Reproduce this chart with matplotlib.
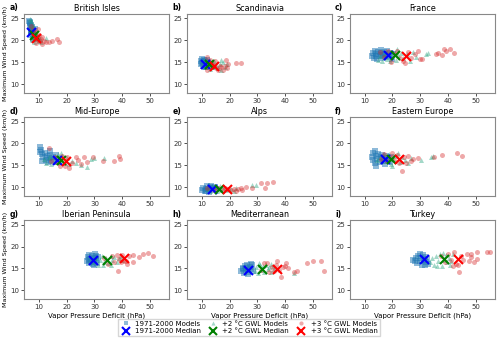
import matplotlib
matplotlib.use("Agg")
import matplotlib.pyplot as plt
from matplotlib.lines import Line2D

# Data (VPD in hPa, max wind speed in km/h)
regions = ['British Isles', 'Scandinavia', 'France', 'Mid-Europe', 'Alps',
           'Eastern Europe', 'Iberian Peninsula', 'Mediterranean', 'Turkey']
panel_tags = ['a)', 'b)', 'c)', 'd)', 'e)', 'f)', 'g)', 'h)', 'i)']

hist_a = [(6.5, 24.5), (6.8, 24.0), (7.0, 23.5), (6.6, 23.2), (7.2, 22.8), (7.5, 22.4), (7.3, 21.8),
          (7.8, 21.5), (8.0, 22.0), (8.2, 21.2), (7.0, 22.2), (8.5, 20.8), (7.6, 23.0), (6.9, 24.2),
          (8.8, 20.5), (7.9, 20.2), (7.1, 21.3), (8.4, 22.5)]
gwl2_a = [(6.6, 24.8), (7.0, 24.3), (7.4, 23.0), (7.8, 22.3), (8.1, 21.6), (8.4, 21.0), (8.7, 20.6),
          (9.0, 20.2), (7.6, 20.8), (8.2, 19.5), (9.5, 19.8), (10.2, 20.3), (12.6, 20.6), (7.2, 21.8),
          (8.9, 21.5), (9.8, 20.9), (8.0, 23.4), (7.5, 20.1), (10.8, 19.6)]
gwl3_a = [(7.2, 23.2), (7.8, 22.4), (8.5, 22.0), (8.8, 21.0), (9.3, 20.5), (9.8, 20.0), (10.3, 19.8),
          (10.8, 20.4), (11.2, 19.2), (11.8, 19.9), (12.5, 19.7), (13.6, 19.6), (14.6, 19.8),
          (16.5, 20.2), (17.3, 19.7), (9.0, 19.4), (10.0, 21.2), (8.2, 20.8), (11.0, 20.8), (9.5, 22.6)]
med_a = [(7.3, 21.8), (8.1, 21.1), (9.0, 20.6)]

hist_b = [(9.6, 15.3), (9.8, 14.6), (10.2, 15.8), (10.4, 14.2), (10.6, 15.0), (10.8, 15.5), (11.0, 14.0),
          (11.2, 15.2), (11.5, 14.7), (11.8, 15.6), (12.0, 14.3), (12.3, 15.0), (10.0, 14.9),
          (11.4, 13.9), (12.6, 14.5), (10.9, 14.4)]
gwl2_b = [(10.5, 15.2), (11.0, 14.8), (11.6, 14.0), (12.0, 15.3), (12.5, 14.6), (13.0, 14.2),
          (13.5, 15.0), (14.2, 13.8), (15.0, 14.4), (15.8, 13.6), (16.5, 14.6), (16.8, 15.5),
          (17.5, 15.0), (18.2, 14.0), (17.0, 13.2), (12.8, 13.5), (14.5, 15.2), (19.0, 14.5)]
gwl3_b = [(11.9, 16.1), (11.9, 13.2), (12.5, 14.8), (13.2, 14.0), (13.8, 14.5), (14.3, 14.2),
          (15.0, 13.6), (15.8, 13.1), (16.5, 14.2), (17.6, 13.1), (18.2, 14.2), (18.8, 15.5),
          (19.4, 14.6), (19.0, 13.6), (22.5, 14.8), (24.3, 14.8), (14.6, 15.3), (12.8, 15.6), (16.9, 14.0)]
med_b = [(11.3, 14.6), (12.7, 14.5), (14.3, 14.2)]

hist_c = [(12.5, 16.5), (13.0, 17.2), (13.5, 16.0), (13.8, 17.6), (14.2, 16.8), (14.6, 15.7),
          (15.0, 17.3), (15.4, 16.3), (15.8, 17.7), (16.2, 16.6), (16.6, 15.9), (17.0, 17.4),
          (17.4, 16.8), (17.8, 16.1), (18.2, 17.6), (18.6, 16.4), (19.2, 17.0), (19.8, 15.8),
          (20.2, 16.9), (14.0, 16.4), (16.0, 17.0)]
gwl2_c = [(14.8, 15.6), (15.5, 16.4), (16.3, 15.3), (17.2, 16.9), (18.0, 15.8), (18.8, 17.1),
          (19.6, 16.1), (20.4, 17.4), (21.2, 15.6), (22.0, 16.7), (23.0, 17.2), (24.0, 16.0),
          (25.2, 16.8), (26.4, 15.2), (27.5, 17.4), (28.6, 16.2), (32.0, 16.8), (32.7, 17.2),
          (21.5, 18.0), (19.0, 15.2)]
gwl3_c = [(15.5, 17.4), (17.0, 16.2), (18.5, 17.6), (19.5, 15.0), (20.8, 16.8), (21.8, 17.5),
          (22.8, 15.9), (23.8, 15.2), (24.6, 14.7), (25.5, 17.3), (26.8, 16.0), (28.0, 16.8),
          (29.3, 17.5), (30.1, 15.8), (30.8, 15.8), (35.7, 16.8), (36.4, 17.2), (38.0, 16.6),
          (38.7, 18.0), (39.3, 17.5), (40.8, 18.0), (42.2, 17.0)]
med_c = [(18.6, 16.6), (21.1, 16.6), (24.9, 16.5)]

hist_d = [(10.5, 19.2), (10.8, 18.6), (10.3, 18.0), (11.0, 17.5), (11.5, 16.8), (12.0, 17.8),
          (12.4, 16.2), (12.8, 17.2), (13.2, 15.8), (13.6, 16.6), (14.0, 17.4), (14.5, 15.9),
          (15.0, 16.8), (15.5, 16.2), (16.0, 17.3), (16.5, 15.7), (17.0, 16.5), (11.2, 16.0), (13.8, 18.2)]
gwl2_d = [(11.8, 16.4), (12.6, 15.6), (13.5, 16.9), (14.4, 15.4), (15.2, 17.0), (16.0, 15.8),
          (16.8, 17.5), (17.6, 16.0), (18.4, 17.2), (19.2, 15.5), (20.0, 16.6), (21.0, 15.2),
          (22.0, 16.0), (23.5, 15.6), (25.0, 15.0), (27.3, 14.7), (28.8, 16.5), (30.0, 16.6),
          (33.5, 16.6), (18.0, 17.8)]
gwl3_d = [(13.6, 18.9), (14.5, 16.0), (15.8, 16.8), (16.8, 15.6), (17.4, 14.9), (18.2, 17.2),
          (19.0, 15.9), (20.0, 16.8), (21.0, 14.5), (22.0, 15.6), (23.4, 16.8), (24.2, 16.2),
          (25.2, 15.3), (26.4, 17.0), (27.4, 15.8), (29.4, 17.0), (33.2, 16.0), (36.9, 16.1),
          (38.9, 17.2), (39.3, 16.5), (19.5, 14.8)]
med_d = [(16.4, 16.3), (17.8, 16.3), (19.6, 16.1)]

hist_e = [(10.2, 9.4), (10.6, 9.9), (11.0, 9.2), (11.4, 9.7), (11.8, 10.2), (12.2, 9.5), (12.6, 9.0),
          (13.0, 9.8), (13.4, 10.3), (13.8, 9.3), (14.2, 9.9), (14.6, 10.1), (15.0, 9.5), (11.6, 9.1),
          (12.9, 10.0)]
gwl2_e = [(12.0, 9.6), (13.0, 9.1), (14.0, 9.8), (15.0, 10.0), (15.6, 9.2), (16.2, 9.7), (17.0, 9.4),
          (17.8, 9.9), (18.6, 9.3), (19.5, 9.6), (20.5, 9.5), (21.5, 9.2), (22.5, 9.8), (28.2, 10.4),
          (29.7, 10.6), (16.6, 10.2)]
gwl3_e = [(12.0, 9.8), (14.5, 9.4), (16.0, 9.9), (17.5, 9.3), (18.5, 9.8), (19.5, 9.5), (20.5, 9.3),
          (21.5, 9.7), (22.2, 9.2), (23.0, 9.5), (24.0, 9.8), (24.6, 9.4), (28.0, 9.8), (31.4, 10.9),
          (32.7, 9.8), (33.6, 10.9), (35.7, 11.1), (26.0, 10.0)]
med_e = [(13.6, 9.6), (16.2, 9.6), (19.0, 9.6)]

hist_f = [(12.5, 16.9), (13.0, 17.9), (13.2, 16.2), (13.6, 15.6), (14.0, 17.2), (14.2, 14.9),
          (14.6, 16.5), (15.0, 17.6), (15.4, 15.8), (15.8, 16.9), (16.2, 17.4), (16.6, 16.0),
          (17.0, 16.7), (17.4, 15.4), (17.8, 17.1), (18.4, 16.3), (19.0, 15.8), (19.6, 16.9), (13.8, 18.3)]
gwl2_f = [(14.5, 16.2), (15.5, 17.0), (16.4, 15.9), (17.2, 17.3), (18.0, 16.1), (18.8, 17.5),
          (19.9, 14.8), (20.4, 16.4), (21.2, 17.1), (21.9, 17.9), (22.8, 15.8), (23.6, 16.9),
          (24.5, 16.2), (25.6, 15.5), (26.8, 16.6), (30.5, 16.2), (33.9, 16.8), (34.5, 17.2), (19.4, 15.4)]
gwl3_f = [(15.8, 16.5), (17.0, 17.5), (18.2, 15.9), (19.4, 16.9), (20.6, 16.2), (21.6, 17.4),
          (22.5, 15.6), (23.5, 13.7), (24.2, 16.8), (24.9, 15.6), (25.5, 17.2), (26.7, 16.0),
          (27.4, 16.5), (29.1, 16.6), (35.1, 16.9), (37.8, 17.4), (43.4, 17.9), (45.2, 17.2), (20.0, 17.8)]
med_f = [(17.2, 16.4), (19.6, 16.4), (22.5, 16.4)]

hist_g = [(27.2, 16.8), (27.6, 17.6), (27.9, 16.2), (28.2, 18.0), (28.5, 17.2), (28.8, 16.5),
          (29.1, 17.8), (29.4, 16.0), (29.7, 17.4), (30.0, 16.7), (30.3, 18.2), (30.6, 17.0),
          (30.9, 16.3), (31.2, 17.6), (28.0, 17.0), (29.8, 15.9), (30.5, 17.9)]
gwl2_g = [(29.5, 16.4), (30.5, 17.4), (31.2, 15.9), (32.0, 17.0), (32.8, 17.8), (33.5, 16.5),
          (34.2, 17.4), (35.0, 16.2), (35.8, 17.8), (36.5, 16.9), (37.2, 17.6), (38.0, 16.4),
          (38.8, 17.3), (39.6, 17.9), (33.0, 15.8), (36.0, 15.9), (40.0, 17.0)]
gwl3_g = [(33.5, 17.3), (35.0, 16.0), (36.2, 17.8), (37.2, 16.5), (38.0, 18.0), (38.4, 14.5),
          (39.0, 17.2), (39.8, 18.1), (40.6, 16.8), (41.4, 16.7), (41.7, 16.0), (42.5, 17.8),
          (43.8, 18.0), (43.8, 16.5), (45.9, 17.6), (47.6, 18.2), (49.2, 18.6), (51.0, 17.8), (39.5, 16.4)]
med_g = [(29.4, 17.0), (34.6, 17.0), (40.5, 17.3)]

hist_h = [(24.3, 14.4), (24.8, 15.0), (25.2, 14.0), (25.6, 15.6), (26.0, 14.6), (26.4, 15.9),
          (26.8, 14.2), (27.2, 15.3), (27.6, 14.8), (28.0, 15.8), (28.4, 14.4), (25.0, 14.8),
          (26.6, 13.8), (27.8, 16.0), (25.8, 15.2)]
gwl2_h = [(29.0, 14.4), (29.6, 15.4), (30.2, 14.0), (30.8, 15.8), (31.4, 14.7), (32.0, 15.5),
          (32.6, 14.2), (33.2, 15.9), (33.8, 14.8), (34.4, 15.4), (35.0, 14.1), (35.6, 15.6),
          (36.2, 14.9), (43.2, 14.0), (30.5, 16.2), (34.8, 16.0)]
gwl3_h = [(31.5, 14.6), (32.5, 16.2), (33.6, 16.3), (34.4, 14.2), (35.2, 15.3), (36.0, 14.4),
          (36.6, 15.8), (37.0, 16.8), (37.8, 14.6), (38.7, 13.0), (39.2, 15.4), (40.0, 15.5),
          (40.2, 16.3), (41.0, 15.0), (43.2, 14.3), (44.4, 14.5), (48.0, 16.3), (50.1, 16.6),
          (52.8, 16.6), (54.0, 14.5)]
med_h = [(26.8, 14.7), (31.8, 14.9), (37.2, 14.9)]

hist_i = [(28.0, 16.8), (28.6, 17.5), (29.0, 16.2), (29.4, 17.9), (29.8, 16.6), (30.2, 17.3),
          (30.6, 15.9), (31.0, 18.0), (31.4, 16.9), (31.8, 17.6), (32.2, 16.4), (32.6, 17.2),
          (33.0, 16.0), (30.0, 18.2), (31.6, 15.8), (27.5, 17.0)]
gwl2_i = [(33.5, 16.5), (34.2, 17.4), (35.0, 15.9), (35.8, 17.8), (36.5, 16.6), (37.2, 18.4),
          (37.8, 15.6), (38.5, 17.0), (39.2, 18.0), (39.8, 16.4), (40.5, 17.5), (41.2, 16.8),
          (42.0, 18.2), (36.0, 15.5), (38.2, 18.6), (40.8, 15.8)]
gwl3_i = [(37.5, 17.8), (39.0, 16.5), (40.0, 18.4), (41.0, 17.0), (42.2, 18.8), (43.0, 16.0),
          (43.8, 15.8), (44.0, 14.1), (44.8, 17.8), (45.5, 16.9), (46.8, 18.2), (47.6, 16.7),
          (48.2, 17.6), (48.2, 18.4), (49.4, 16.5), (50.6, 17.2), (50.6, 18.8), (54.2, 18.8),
          (55.1, 18.8), (41.8, 15.6)]
med_i = [(31.3, 17.1), (38.7, 17.1), (43.7, 17.2)]

hist_all = [hist_a, hist_b, hist_c, hist_d, hist_e, hist_f, hist_g, hist_h, hist_i]
gwl2_all = [gwl2_a, gwl2_b, gwl2_c, gwl2_d, gwl2_e, gwl2_f, gwl2_g, gwl2_h, gwl2_i]
gwl3_all = [gwl3_a, gwl3_b, gwl3_c, gwl3_d, gwl3_e, gwl3_f, gwl3_g, gwl3_h, gwl3_i]
med_all = [med_a, med_b, med_c, med_d, med_e, med_f, med_g, med_h, med_i]

fs = 5
fig, axes = plt.subplots(3, 3, figsize=(5, 3.43), dpi=100)
fig.subplots_adjust(left=0.048, right=0.99, top=0.959, bottom=0.128, wspace=0.12, hspace=0.31)

for k, ax in enumerate(axes.flat):
    for pts, mk, col, al in [(hist_all[k], 's', '#1f77b4', 0.5),
                             (gwl2_all[k], '^', '#1b9e77', 0.4),
                             (gwl3_all[k], 'o', '#d62728', 0.4)]:
        xs = [p[0] for p in pts]
        ys = [p[1] for p in pts]
        ax.scatter(xs, ys, marker=mk, s=13, color=col, alpha=al, linewidths=0)
    for (mx, my), col in zip(med_all[k], ['blue', 'green', 'red']):
        ax.scatter([mx], [my], marker='x', s=42, color=col, linewidths=1.5, zorder=5)

    ax.set_xlim(4.6, 57)
    ax.set_ylim(8, 26)
    ax.set_xticks([10, 20, 30, 40, 50])
    ax.set_yticks([10, 15, 20, 25])
    ax.tick_params(labelsize=fs, length=2, width=0.6, pad=1.5, colors='#333333')
    for sp in ax.spines.values():
        sp.set_color('#888888')
        sp.set_linewidth(0.8)
    ax.set_title(regions[k], fontsize=fs + 0.8, pad=2.5)
    ax.text(-0.1, 1.02, panel_tags[k], transform=ax.transAxes, fontsize=fs + 0.5,
            fontweight='bold', va='bottom', ha='left')
    if k % 3 == 0:
        ax.set_ylabel('Maximum Wind Speed (km/h)', fontsize=4.6, labelpad=1.5)
    if k >= 6:
        ax.set_xlabel('Vapor Pressure Deficit (hPa)', fontsize=fs, labelpad=1.5)

handles = [
    Line2D([], [], ls='none', marker='s', markersize=3, color='#1f77b4', alpha=0.5, markeredgewidth=0),
    Line2D([], [], ls='none', marker='x', markersize=6, color='blue', markeredgewidth=1.5),
    Line2D([], [], ls='none', marker='^', markersize=3, color='#1b9e77', alpha=0.4, markeredgewidth=0),
    Line2D([], [], ls='none', marker='x', markersize=6, color='green', markeredgewidth=1.5),
    Line2D([], [], ls='none', marker='o', markersize=3, color='#d62728', alpha=0.4, markeredgewidth=0),
    Line2D([], [], ls='none', marker='x', markersize=6, color='red', markeredgewidth=1.5),
]
labels = ['1971-2000 Models', '1971-2000 Median', '+2 °C GWL Models', '+2 °C GWL Median',
          '+3 °C GWL Models', '+3 °C GWL Median']
fig.legend(handles, labels, loc='center', bbox_to_anchor=(0.498, 0.045), ncol=3, fontsize=fs,
           frameon=True, edgecolor='#cccccc', fancybox=False, handletextpad=0.6, columnspacing=1.0,
           handlelength=1.5, borderpad=0.3, labelspacing=0.2)

fig.savefig('out.png', dpi=100)
